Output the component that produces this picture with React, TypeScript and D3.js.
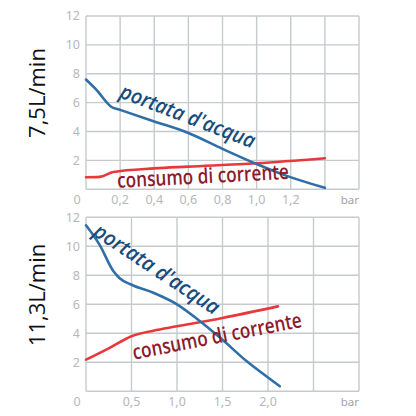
import * as d3 from "d3";

// top chart (7,5 L/min)
const topXTicks = [0, 0.2, 0.4, 0.6, 0.8, 1.0, 1.2, 1.4, 1.6];
const topXLabels = ["0", "0,2", "0,4", "0,6", "0,8", "1,0", "1,2"];
const topFlowP = [0, 0.06, 0.15, 0.2, 0.4, 0.6, 0.8, 1.0, 1.16, 1.4];
const topFlow = [7.6, 6.9, 5.7, 5.5, 4.7, 3.9, 2.8, 1.75, 1.0, 0.1];
const topCurP = [0, 0.08, 0.16, 0.4, 0.6, 1.0, 1.4];
const topCur = [0.83, 0.86, 1.2, 1.45, 1.57, 1.8, 2.15];

// bottom chart (11,3 L/min)
const botXTicks = [0, 0.5, 1.0, 1.5, 2.0, 2.5, 3.0];
const botXLabels = ["0", "0,5", "1,0", "1,5", "2,0"];
const botFlowP = [0, 0.15, 0.3, 0.37, 0.5, 0.74, 1.0, 1.25, 1.5, 1.77, 2.0, 2.13];
const botFlow = [11.45, 10.1, 8.3, 7.8, 7.35, 6.8, 6.0, 4.85, 3.55, 2.05, 0.95, 0.35];
const botCurP = [0, 0.26, 0.5, 0.74, 1.0, 1.5, 2.11];
const botCur = [2.18, 3.0, 3.8, 4.18, 4.48, 5.06, 5.86];

const yTicks = [0, 2, 4, 6, 8, 10, 12];
const yLabels = ["2", "4", "6", "8", "10", "12"];

const GRID = "#c6cacd";
const TICK = "#b4b8bc";
const BLUE = "#2f6fa7";
const BLUE_TXT = "#174d7c";
const RED = "#e8383c";
const RED_TXT = "#8c1b2c";
const LABEL_FONT = "'Open Sans', 'Noto Sans', sans-serif";

type Ann = { x: number; y: number; rot: number; len: number };

type PanelProps = {
  top: number;
  bottom: number;
  title: string;
  titleY: number;
  xTicks: number[];
  xLabels: string[];
  flowP: number[];
  flow: number[];
  curP: number[];
  cur: number[];
  flowAnn: Ann;
  curAnn: Ann;
};

function Panel(p: PanelProps) {
  const left = 86;
  const right = 359;
  const x = d3
    .scaleLinear()
    .domain([p.xTicks[0], p.xTicks[p.xTicks.length - 1]])
    .range([left, right]);
  const y = d3.scaleLinear().domain([0, 12]).range([p.bottom, p.top]);

  const line = d3
    .line<[number, number]>()
    .x((d) => x(d[0]))
    .y((d) => y(d[1]))
    .curve(d3.curveMonotoneX);

  const flowPts = p.flowP.map((v, i) => [v, p.flow[i]] as [number, number]);
  const curPts = p.curP.map((v, i) => [v, p.cur[i]] as [number, number]);

  return (
    <g>
      {/* grid */}
      {p.xTicks.map((t) => (
        <line key={"vx" + t} x1={x(t)} x2={x(t)} y1={y(12)} y2={y(0)} stroke={GRID} strokeWidth={1.4} />
      ))}
      {yTicks.map((t) => (
        <line key={"hy" + t} x1={left} x2={right} y1={y(t)} y2={y(t)} stroke={GRID} strokeWidth={1.4} />
      ))}

      {/* y tick labels */}
      {yLabels.map((l) => (
        <text
          key={"yl" + l}
          x={80}
          y={y(+l)}
          dy="0.35em"
          textAnchor="end"
          fill={TICK}
          fontSize={12.5}
          fontFamily="'Noto Sans', sans-serif"
        >
          {l}
        </text>
      ))}

      {/* x tick labels */}
      {p.xLabels.map((l, i) => (
        <text
          key={"xl" + l}
          x={i === 0 ? 77 : x(p.xTicks[i])}
          y={p.bottom + 15}
          textAnchor="middle"
          fill={TICK}
          fontSize={12.5}
          fontFamily="'Noto Sans', sans-serif"
        >
          {l}
        </text>
      ))}
      <text x={right} y={p.bottom + 15} textAnchor="end" fill="#9ea3a8" fontSize={11.5} fontFamily="'Noto Sans', sans-serif">
        bar
      </text>

      {/* curves */}
      <path d={line(curPts) ?? ""} fill="none" stroke={RED} strokeWidth={2.6} strokeLinecap="round" />
      <path d={line(flowPts) ?? ""} fill="none" stroke={BLUE} strokeWidth={2.6} strokeLinecap="round" />

      {/* annotations */}
      <text
        transform={`translate(${p.flowAnn.x},${p.flowAnn.y}) rotate(${p.flowAnn.rot})`}
        textAnchor="middle"
        dy="0.35em"
        fill={BLUE_TXT}
        fontSize={21}
        fontStyle="italic"
        fontWeight={600}
        fontFamily={LABEL_FONT}
        textLength={p.flowAnn.len}
        lengthAdjust="spacingAndGlyphs"
      >
        portata d'acqua
      </text>
      <text
        transform={`translate(${p.curAnn.x},${p.curAnn.y}) rotate(${p.curAnn.rot})`}
        textAnchor="middle"
        dy="0.35em"
        fill={RED_TXT}
        fontSize={21}
        fontWeight={600}
        fontFamily={LABEL_FONT}
        textLength={p.curAnn.len}
        lengthAdjust="spacingAndGlyphs"
      >
        consumo di corrente
      </text>

      {/* side title */}
      <text
        transform={`translate(45,${p.titleY}) rotate(-90)`}
        textAnchor="middle"
        fill="#111"
        fontSize={22}
        fontWeight={500}
        fontFamily="'Open Sans', sans-serif"
      >
        {p.title}
      </text>
    </g>
  );
}

export default function App() {
  return (
    <svg
      width={416}
      height={416}
      style={{ position: "absolute", left: 0, top: 0, background: "#fff" }}
    >
      <rect width={416} height={416} fill="#fff" />
      <Panel
        top={16}
        bottom={189.3}
        title="7,5L/min"
        titleY={93}
        xTicks={topXTicks}
        xLabels={topXLabels}
        flowP={topFlowP}
        flow={topFlow}
        curP={topCurP}
        cur={topCur}
        flowAnn={{ x: 188, y: 116, rot: 21, len: 143 }}
        curAnn={{ x: 203, y: 176, rot: -3, len: 172 }}
      />
      <Panel
        top={217.3}
        bottom={391.3}
        title="11,3L/min"
        titleY={295}
        xTicks={botXTicks}
        xLabels={botXLabels}
        flowP={botFlowP}
        flow={botFlow}
        curP={botCurP}
        cur={botCur}
        flowAnn={{ x: 157, y: 269, rot: 33.5, len: 146 }}
        curAnn={{ x: 217, y: 336, rot: -11, len: 172 }}
      />
    </svg>
  );
}
